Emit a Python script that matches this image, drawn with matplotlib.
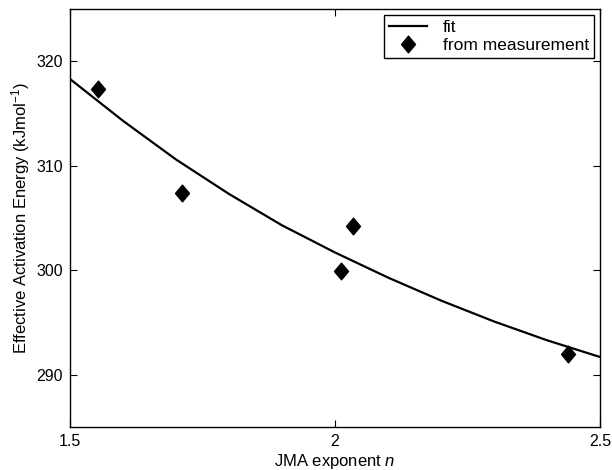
import matplotlib
matplotlib.use("Agg")
import matplotlib.pyplot as plt

# measured points
n_meas = [1.553, 1.711, 2.011, 2.034, 2.439]
e_meas = [317.3, 307.4, 299.9, 304.2, 292.0]

# fit curve
n_fit = [1.5, 1.6, 1.7, 1.8, 1.9, 2.0, 2.1, 2.2, 2.3, 2.4, 2.5]
e_fit = [318.3, 314.3, 310.6, 307.3, 304.3, 301.7, 299.3, 297.1, 295.1, 293.3, 291.7]

plt.rcParams['font.family'] = ['Liberation Sans', 'DejaVu Sans']
plt.rcParams['mathtext.fontset'] = 'custom'
plt.rcParams['mathtext.rm'] = 'Liberation Sans'
plt.rcParams['mathtext.it'] = 'Liberation Sans:italic'

# a diamond a bit taller than wide, like the original
diamond = [(-0.42, 0), (0, 0.5), (0.42, 0), (0, -0.5), (-0.42, 0)]

fig = plt.figure(figsize=(6.12, 4.70), dpi=100)
ax = fig.add_axes([70 / 612, 1 - 427 / 470, 530 / 612, 418 / 470])

ax.plot(n_fit, e_fit, color='black', linewidth=1.6, label='fit')
ax.plot(n_meas, e_meas, linestyle='none', marker=diamond, markersize=12,
        color='black', label='from measurement')

ax.set_xlim(1.5, 2.5)
ax.set_ylim(285, 325)
ax.set_xticks([1.5, 2, 2.5])
ax.set_xticklabels(['1.5', '2', '2.5'])
ax.set_yticks([290, 300, 310, 320])

ax.tick_params(direction='in', top=True, right=True, length=5, width=0.8,
               labelsize=11.5, pad=5)
for s in ax.spines.values():
    s.set_linewidth(1.0)

ax.set_xlabel('JMA exponent $\\it{n}$', fontsize=12, labelpad=2)
ax.set_ylabel('Effective Activation Energy (kJmol$^{-1}$)', fontsize=12, labelpad=3)

leg = ax.legend(loc='upper right', fontsize=12.5, frameon=True, fancybox=False,
                borderpad=0.3, handlelength=2.2, handletextpad=0.9,
                labelspacing=0.15, borderaxespad=0.35, edgecolor='black',
                framealpha=1)
leg.get_frame().set_linewidth(1.0)

fig.savefig('out.png', dpi=100)
